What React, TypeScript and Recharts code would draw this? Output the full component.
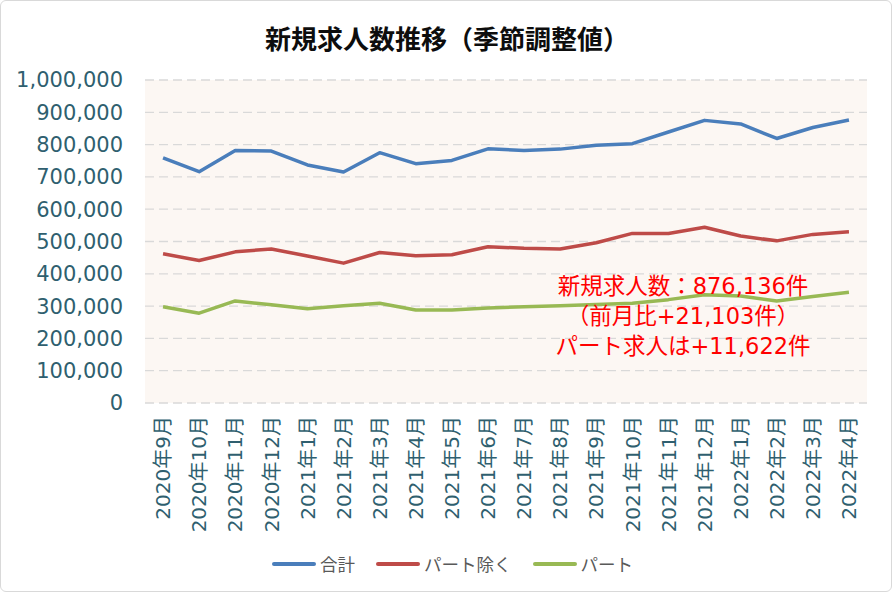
import { LineChart, Line, XAxis, YAxis, CartesianGrid, Legend } from 'recharts';

const months = [
  '2020年9月', '2020年10月', '2020年11月', '2020年12月',
  '2021年1月', '2021年2月', '2021年3月', '2021年4月', '2021年5月', '2021年6月',
  '2021年7月', '2021年8月', '2021年9月', '2021年10月', '2021年11月', '2021年12月',
  '2022年1月', '2022年2月', '2022年3月', '2022年4月',
];

// 合計
const totalJobs = [
  759000, 716000, 782000, 780000, 737000, 715000, 775000, 741000, 751000, 787000,
  782000, 786000, 798000, 803000, 839000, 875000, 864000, 819000, 853000, 876136,
];

// パート除く
const excludingPart = [
  462000, 441000, 468000, 477000, 455000, 433000, 466000, 456000, 459000, 484000,
  479000, 477000, 496000, 525000, 525000, 544000, 517000, 502000, 522000, 530000,
];

// パート
const partJobs = [
  298000, 278000, 316000, 304000, 292000, 301000, 309000, 288000, 288000, 294000,
  298000, 301000, 305000, 309000, 320000, 335000, 331000, 316000, 330000, 343000,
];

const seriesNames = ['合計', 'パート除く', 'パート'];

const yTicks = [0, 100000, 200000, 300000, 400000, 500000, 600000, 700000, 800000, 900000, 1000000];

const annotationLines = ['新規求人数：876,136件', '（前月比+21,103件）', 'パート求人は+11,622件'];

const data = months.map((month, i) => ({
  month,
  total: totalJobs[i],
  exPart: excludingPart[i],
  part: partJobs[i],
}));

// tick marks sit between categories, like Excel
const boundaryTicks = Array.from({ length: months.length + 1 }, (_, i) => i);

const AXIS_TEXT = '#2f5f6f';
const FONT = '"DejaVu Sans", "Noto Sans CJK JP", sans-serif';

function MonthTick({ x, y, payload }: any) {
  return (
    <g transform={`translate(${x},${y + 13})`}>
      <text
        transform="rotate(-90)"
        textAnchor="end"
        dy="0.36em"
        fill={AXIS_TEXT}
        fontSize={20}
        fontFamily={FONT}
      >
        {payload.value}
      </text>
    </g>
  );
}

function LegendContent({ payload }: any) {
  const items = [...(payload || [])].sort(
    (a: any, b: any) => seriesNames.indexOf(a.value) - seriesNames.indexOf(b.value),
  );
  return (
    <div
      style={{
        display: 'flex',
        justifyContent: 'center',
        gap: 20,
        fontSize: 17.5,
        color: '#595959',
        fontFamily: '"Noto Sans CJK JP", sans-serif',
        lineHeight: '20px',
      }}
    >
      {items.map((entry: any) => (
        <span key={entry.value} style={{ display: 'flex', alignItems: 'center' }}>
          <svg width={46} height={10}>
            <line x1={3} y1={5} x2={43} y2={5} stroke={entry.color} strokeWidth={4} strokeLinecap="round" />
          </svg>
          <span style={{ marginLeft: 3 }}>{entry.value}</span>
        </span>
      ))}
    </div>
  );
}

export default function App() {
  return (
    <div
      style={{
        position: 'absolute',
        left: 0,
        top: 0,
        width: 892,
        height: 592,
        background: '#fff',
        border: '1px solid #d9d9d9',
        borderRadius: 6,
        boxSizing: 'border-box',
        overflow: 'hidden',
      }}
    >
      <div
        style={{
          position: 'absolute',
          left: 0,
          top: 20,
          width: 892,
          textAlign: 'center',
          fontSize: 26,
          fontWeight: 700,
          lineHeight: '34px',
          color: '#0d0d0d',
          fontFamily: '"Noto Sans CJK JP", sans-serif',
        }}
      >
        新規求人数推移（季節調整値）
      </div>
      <div style={{ position: 'absolute', left: -1, top: -1 }}>
        <LineChart width={892} height={592} data={data} margin={{ top: 80, right: 25, bottom: 0, left: 0 }}>
          <CartesianGrid
            vertical={false}
            stroke="#d9d9d9"
            strokeWidth={1.3}
            strokeDasharray="9 5"
            fill="#fcf7f3"
            fillOpacity={1}
          />
          <XAxis
            xAxisId="bnd"
            type="number"
            domain={[0, months.length]}
            ticks={boundaryTicks}
            allowDataOverflow
            tick={false}
            tickSize={6}
            tickLine={{ stroke: '#d9d9d9' }}
            axisLine={{ stroke: '#d9d9d9' }}
            height={0}
          />
          <XAxis
            dataKey="month"
            scale="band"
            interval={0}
            tick={<MonthTick />}
            tickLine={false}
            axisLine={false}
            tickSize={0}
            tickMargin={0}
            height={135}
          />
          <YAxis
            width={145}
            domain={[0, 1000000]}
            ticks={yTicks}
            axisLine={false}
            tickLine={false}
            tickSize={0}
            tickMargin={22}
            tickFormatter={(v: number) => v.toLocaleString('en-US')}
            tick={{ fill: AXIS_TEXT, fontSize: 21, fontFamily: FONT }}
          />
          <Legend
            verticalAlign="bottom"
            content={<LegendContent />}
            wrapperStyle={{
              left: 0,
              width: 892,
              height: 54,
              paddingTop: 16,
              paddingLeft: 12,
              boxSizing: 'border-box',
            }}
          />
          <Line
            type="linear"
            dataKey="total"
            name="合計"
            stroke="#4a7ebb"
            strokeWidth={3.5}
            strokeLinejoin="round"
            dot={false}
            isAnimationActive={false}
          />
          <Line
            type="linear"
            dataKey="exPart"
            name="パート除く"
            stroke="#be4b48"
            strokeWidth={3.5}
            strokeLinejoin="round"
            dot={false}
            isAnimationActive={false}
          />
          <Line
            type="linear"
            dataKey="part"
            name="パート"
            stroke="#98b954"
            strokeWidth={3.5}
            strokeLinejoin="round"
            dot={false}
            isAnimationActive={false}
          />
        </LineChart>
      </div>
      <div
        style={{
          position: 'absolute',
          left: 532,
          top: 270,
          width: 300,
          textAlign: 'center',
          color: '#ff0000',
          fontSize: 22.5,
          lineHeight: '30px',
          fontFamily: FONT,
          whiteSpace: 'nowrap',
        }}
      >
        {annotationLines.map((line) => (
          <div key={line}>{line}</div>
        ))}
      </div>
    </div>
  );
}
